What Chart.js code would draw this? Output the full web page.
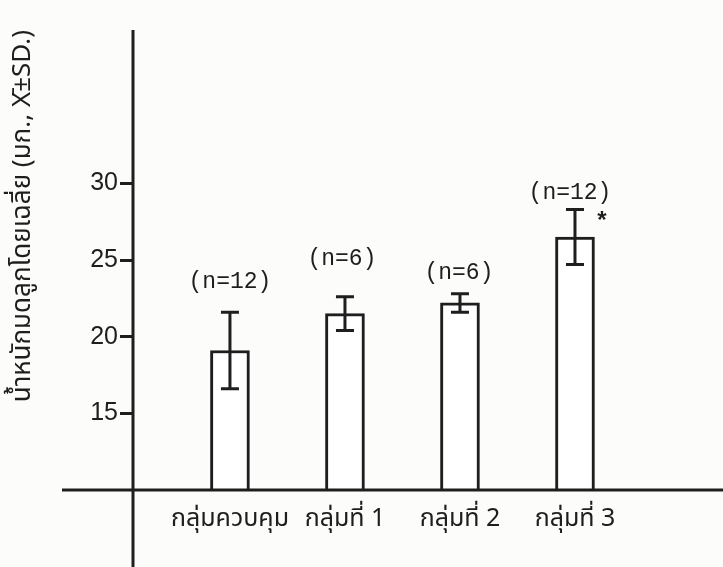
<!DOCTYPE html>
<html>
<head>
<meta charset="utf-8">
<script src="https://cdn.jsdelivr.net/npm/chart.js@4"></script>
<style>
  html, body { margin: 0; padding: 0; background: #fcfcfa; }
  #wrap { width: 723px; height: 567px; }
</style>
</head>
<body>
<div id="wrap"><canvas id="c" width="723" height="567"></canvas></div>
<script>
// Mean uterine weight per group (mg), with SD and group sizes
const categories = ['กลุ่มควบคุม', 'กลุ่มที่ 1', 'กลุ่มที่ 2', 'กลุ่มที่ 3'];
const meanWeight = [19.1, 21.5, 22.2, 26.5];
const sdWeight = [2.5, 1.1, 0.6, 1.8];
const groupSize = ['(n=12)', '(n=6)', '(n=6)', '(n=12)'];
const significance = ['', '', '', '*'];
const yTicks = [15, 20, 25, 30];

const INK = '#1e1e1e';
const THAI = '"Noto Sans Thai", "Noto Sans", "DejaVu Sans", sans-serif';

// Axis lines, SD whiskers, group-size labels and significance marks
const annotate = {
  id: 'annotate',
  afterDraw(chart, args, opts) {
    const ctx = chart.ctx;
    const xs = chart.scales.x, ys = chart.scales.y;
    const base = ys.getPixelForValue(ys.min);
    ctx.save();
    ctx.strokeStyle = INK;
    ctx.lineCap = 'butt';
    // axes: horizontal line runs past the vertical one on both sides
    ctx.lineWidth = 3;
    ctx.beginPath();
    ctx.moveTo(62, base); ctx.lineTo(chart.width, base);
    ctx.moveTo(xs.left, chart.chartArea.top); ctx.lineTo(xs.left, chart.height);
    ctx.stroke();

    meanWeight.forEach((m, i) => {
      const x = xs.getPixelForValue(i + 1);
      const yTop = ys.getPixelForValue(m + sdWeight[i]);
      const yBot = ys.getPixelForValue(m - sdWeight[i]);
      ctx.lineWidth = 3;
      ctx.beginPath();
      ctx.moveTo(x, yTop); ctx.lineTo(x, yBot);
      ctx.moveTo(x - 9, yTop); ctx.lineTo(x + 9, yTop);
      ctx.moveTo(x - 9, yBot); ctx.lineTo(x + 9, yBot);
      ctx.stroke();

      ctx.fillStyle = INK;
      ctx.font = '23px "Liberation Mono", monospace';
      ctx.textAlign = 'center';
      ctx.textBaseline = 'middle';
      ctx.fillText(groupSize[i], x + opts.nShift[i], yTop - opts.nLift[i]);
      if (significance[i]) {
        ctx.font = 'bold 24px "Liberation Mono", monospace';
        ctx.fillText(significance[i], x + 27, yTop + 14);
      }
    });
    ctx.restore();
  }
};

new Chart(document.getElementById('c'), {
  type: 'bar',
  data: {
    datasets: [{
      data: meanWeight.map((v, i) => ({ x: i + 1, y: v })),
      backgroundColor: '#ffffff',
      borderColor: INK,
      borderWidth: 3,
      barThickness: 39
    }]
  },
  options: {
    responsive: false,
    animation: false,
    layout: { padding: { top: 30, left: 0, right: 0, bottom: 0 } },
    plugins: {
      legend: { display: false },
      tooltip: { enabled: false },
      annotate: { nShift: [0, -3, -1, -5], nLift: [30, 38, 21, 16] }
    },
    scales: {
      x: {
        type: 'linear',
        offset: false,
        min: 0.157,
        max: 5.287,
        afterBuildTicks: s => { s.ticks = categories.map((c, i) => ({ value: i + 1 })); },
        afterFit: s => { s.height = 77; },
        grid: { display: false },
        border: { display: false },
        ticks: {
          autoSkip: false,
          maxRotation: 0,
          padding: 8,
          color: INK,
          font: { family: THAI, size: 25 },
          callback: v => categories[v - 1]
        }
      },
      y: {
        min: 10,
        max: 40,
        afterBuildTicks: s => { s.ticks = yTicks.map(v => ({ value: v })); },
        afterFit: s => { s.width = 133; },
        border: { display: false },
        grid: {
          drawOnChartArea: false,
          drawTicks: true,
          tickLength: 13,
          color: INK,
          lineWidth: 3
        },
        ticks: {
          padding: 2,
          color: INK,
          font: { family: '"Liberation Sans", sans-serif', size: 25 }
        },
        title: {
          display: true,
          align: 'end',
          text: 'น้ำหนักมดลูกโดยเฉลี่ย (มก., X\u0304±SD.)',
          color: INK,
          padding: { top: 9, bottom: 0 },
          font: { family: THAI, size: 26 }
        }
      }
    }
  },
  plugins: [annotate]
});
</script>
</body>
</html>
